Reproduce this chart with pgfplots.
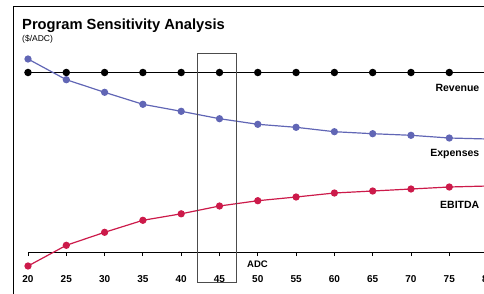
\documentclass[border=0pt]{standalone}
\usepackage{pgfplots}
\pgfplotsset{compat=1.18}
\usepackage{fontspec}
\setmainfont{Liberation Sans}
\definecolor{expblue}{HTML}{6166B5}
\definecolor{ebred}{HTML}{CC1A4A}
\begin{document}
\begin{tikzpicture}[x=1pt,y=1pt]
\useasboundingbox (0,0) rectangle (484,293);
\clip (0,0) rectangle (484,293);
\begin{axis}[
  at={(28pt,40.5pt)}, anchor=south west,
  scale only axis, width=474.9pt, height=252.5pt,
  xmin=20, xmax=82, ymin=0, ymax=252.5,
  clip=false,
  axis x line*=bottom, axis y line=none,
  xtick={20,25,...,80},
  tick align=outside, major tick length=3.5pt,
  x axis line style={line width=0.9pt, -},
  every tick/.style={black, line width=0.8pt},
  /pgf/number format/assume math mode=true,
  xticklabel style={font=\bfseries\fontsize{10}{12}\selectfont, yshift=-26.5pt, anchor=base},
]
\addplot[black, line width=1.4pt, mark=*, mark size=3pt] coordinates {
(20,180)(25,180)(30,180)(35,180)(40,180)(45,180)(50,180)(55,180)(60,180)(65,180)(70,180)(75,180)(80,180)};
\addplot[expblue, line width=1.2pt, mark=*, mark size=3pt] coordinates {
(20,193.5)(25,172.8)(30,160.2)(35,148.2)(40,141.2)(45,133.8)(50,128.2)(55,125.2)(60,120.8)(65,118.8)(70,117.2)(75,114.5)(80,113.5)};
\addplot[ebred, line width=1.2pt, mark=*, mark size=3pt] coordinates {
(20,-13.5)(25,7.2)(30,20.2)(35,32.2)(40,38.7)(45,46.5)(50,51.8)(55,55.5)(60,59.5)(65,61.5)(70,63.5)(75,65.5)(80,66.5)};
\end{axis}
\draw[line width=1.3pt] (13.5,-5) |- (500,286.8);
\draw[line width=0.9pt, black!70] (197.7,11) rectangle (236.7,240);
\node[anchor=base west, inner sep=0, font=\bfseries\fontsize{14.7}{16}\selectfont] at (22,263.7) {Program Sensitivity Analysis};
\node[anchor=base west, inner sep=0, font=\fontsize{8.5}{10}\selectfont] at (22,252) {(\$/ADC)};
\node[anchor=base, inner sep=0, font=\bfseries\fontsize{9.5}{11}\selectfont] at (257.5,26) {ADC};
\node[anchor=base east, inner sep=0, font=\bfseries\fontsize{10.5}{12}\selectfont] at (479.5,202) {Revenue};
\node[anchor=base east, inner sep=0, font=\bfseries\fontsize{10.5}{12}\selectfont] at (479.5,137) {Expenses};
\node[anchor=base east, inner sep=0, font=\bfseries\fontsize{10.5}{12}\selectfont] at (479.5,85) {EBITDA};
\end{tikzpicture}
\end{document}
